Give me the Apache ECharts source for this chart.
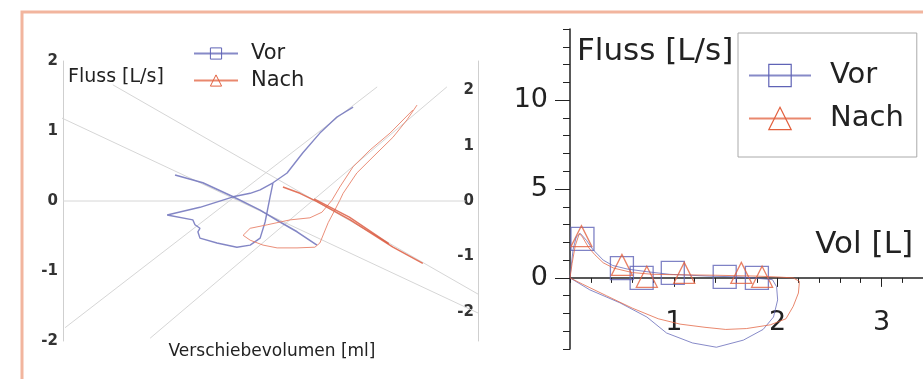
<!DOCTYPE html>
<html>
<head>
<meta charset="utf-8">
<script src="https://cdn.jsdelivr.net/npm/echarts@6/dist/echarts.min.js"></script>
<style>
  html, body { margin: 0; background: #fff; }
  #chart { width: 923px; height: 379px; }
</style>
</head>
<body>
<div id="chart"></div>
<script>
// linke Grafik: 3D-Projektion, x = Verschiebevolumen (relative Einheit 0..100), y = Fluss [L/s]
const vor3dLoop = [
  [69.9, 1.34], [66.0, 1.20], [61.9, 0.97], [57.8, 0.69], [54.0, 0.40], [50.6, 0.26],
  [47.5, 0.16], [45.1, 0.11], [41.0, 0.06], [33.0, -0.09], [25.1, -0.20], [31.3, -0.27],
  [31.8, -0.34], [33.0, -0.39], [32.5, -0.44], [33.0, -0.53], [37.1, -0.60], [41.9, -0.66],
  [45.1, -0.63], [47.5, -0.53], [48.7, -0.30], [49.9, 0.06], [50.6, 0.26]
];
const vor3dFloor = [[27.0, 0.37], [33.7, 0.26], [41.0, 0.06], [47.5, -0.13], [52.3, -0.30], [56.4, -0.44], [61.2, -0.63]];
const nach3dLoop = [
  [85.3, 1.37], [82.9, 1.16], [79.5, 0.91], [74.7, 0.63], [70.8, 0.40], [67.5, 0.11],
  [66.7, 0.01], [65.5, -0.13], [63.9, -0.31], [61.9, -0.60], [60.7, -0.66], [56.4, -0.67],
  [51.6, -0.67], [48.2, -0.63], [45.1, -0.56], [43.4, -0.49], [45.1, -0.39], [49.2, -0.34],
  [54.7, -0.27], [59.5, -0.24], [62.4, -0.16], [64.8, 0.01], [66.7, 0.20], [69.9, 0.49],
  [74.0, 0.73], [78.8, 0.97], [84.3, 1.30]
];
const nach3dFloor = [[53.0, 0.20], [57.1, 0.11], [61.2, -0.01], [69.2, -0.27], [79.5, -0.66], [86.7, -0.89]];
const nach3dFloor2 = [[60.5, 0.03], [69.0, -0.23], [78.5, -0.61]];
const skewLines = [
  [[-5.5, 1.33], [100, -1.6]],
  [[12.0, 1.66], [100, -1.33]],
  [[0.5, -1.81], [75.7, 1.63]],
  [[21.0, -1.96], [92.5, 1.63]],
  [[0, 0], [97, 0]]
];
const leftTicks = [-2, -1, 0, 1, 2];

// rechte Grafik: Fluss-Volumen-Kurve
const vorCurve = [
  [0, 0], [0.01, 0.6], [0.03, 1.6], [0.06, 2.3], [0.1, 2.5], [0.16, 2.1], [0.22, 1.6],
  [0.32, 1.0], [0.41, 0.7], [0.55, 0.5], [0.74, 0.35], [0.96, 0.2], [1.34, 0.1], [1.66, 0.05],
  [1.95, -0.1], [1.99, -0.5], [2.0, -1.24], [1.96, -2.2], [1.86, -2.9], [1.67, -3.5],
  [1.41, -3.9], [1.18, -3.66], [0.93, -3.1], [0.74, -2.2], [0.48, -1.4], [0.19, -0.67], [0, 0]
];
const nachCurve = [
  [0, 0], [0.02, 0.8], [0.05, 1.8], [0.09, 2.5], [0.12, 2.3], [0.18, 1.7], [0.24, 1.3],
  [0.32, 0.85], [0.42, 0.55], [0.6, 0.3], [0.8, 0.2], [1.0, 0.18], [1.4, 0.15], [1.8, 0.1],
  [2.0, 0.05], [2.15, 0.0], [2.21, -0.2], [2.2, -0.85], [2.15, -1.6], [2.08, -2.3],
  [1.93, -2.64], [1.7, -2.85], [1.5, -2.9], [1.3, -2.78], [1.06, -2.6], [0.85, -2.3],
  [0.6, -1.7], [0.35, -1.0], [0.12, -0.35], [0, 0]
];
const vorMarks = [[0.12, 2.2], [0.5, 0.55], [0.69, 0.0], [0.99, 0.28], [1.49, 0.06], [1.8, 0.0]];
const nachMarks = [[0.11, 2.35], [0.5, 0.73], [0.74, 0.06], [1.1, 0.28], [1.65, 0.28], [1.85, 0.06]];
const flowTicks = [0, 5, 10];
const volTicks = [1, 2, 3];

const BLUE = '#5f63b6';
const RED = '#e2603e';
const FONT = 'DejaVu Sans';

const chart = echarts.init(document.getElementById('chart'));

const leftLine = (data, color, width, opacity) => ({
  type: 'line',
  xAxisIndex: 0,
  yAxisIndex: 0,
  data: data,
  showSymbol: false,
  symbol: 'none',
  clip: false,
  silent: true,
  animation: false,
  lineStyle: { color: color, width: width, opacity: opacity }
});

const series = [];
skewLines.forEach(l => series.push(leftLine(l, '#d6d6d6', 1, 1)));
series.push(leftLine(vor3dLoop, '#7579bf', 1.4, 0.9));
series.push(leftLine(vor3dFloor, '#7579bf', 1.6, 0.9));
series.push(leftLine(nach3dLoop, '#e8826a', 1, 0.9));
series.push(leftLine(nach3dFloor, '#e0654a', 1.5, 0.9));
series.push(leftLine(nach3dFloor2, '#d9543a', 1.5, 0.8));

series.push({
  name: 'Vor', type: 'line', xAxisIndex: 1, yAxisIndex: 2, data: vorCurve,
  symbol: 'rect', showSymbol: false, silent: true, animation: false,
  itemStyle: { color: 'rgba(0,0,0,0)', borderColor: BLUE, borderWidth: 1.2 },
  lineStyle: { color: BLUE, width: 1, opacity: 0.75 }
});
series.push({
  name: 'Nach', type: 'line', xAxisIndex: 1, yAxisIndex: 2, data: nachCurve,
  symbol: 'triangle', showSymbol: false, silent: true, animation: false,
  itemStyle: { color: 'rgba(0,0,0,0)', borderColor: RED, borderWidth: 1.2 },
  lineStyle: { color: RED, width: 1, opacity: 0.75 }
});
series.push({
  type: 'scatter', xAxisIndex: 1, yAxisIndex: 2, data: vorMarks,
  symbol: 'rect', symbolSize: 23, silent: true, animation: false,
  itemStyle: { color: 'rgba(0,0,0,0)', borderColor: BLUE, borderWidth: 1.3 }
});
series.push({
  type: 'scatter', xAxisIndex: 1, yAxisIndex: 2, data: nachMarks,
  symbol: 'triangle', symbolSize: 21, silent: true, animation: false,
  itemStyle: { color: 'rgba(0,0,0,0)', borderColor: RED, borderWidth: 1.3 }
});

const option = {
  backgroundColor: '#fff',
  textStyle: { fontFamily: FONT },
  animation: false,
  grid: [
    { left: 63, top: 61, width: 415, height: 280, outerBoundsMode: 'none' },
    { left: 570, top: 29, width: 353, height: 320, outerBoundsMode: 'none' }
  ],
  xAxis: [
    { gridIndex: 0, type: 'value', min: 0, max: 100, show: false },
    {
      gridIndex: 1, type: 'value', position: 'bottom', min: 0, max: 3.4, interval: 0.2,
      axisLine: { onZero: true, lineStyle: { color: '#222', width: 1.5 } },
      axisTick: { length: 5, lineStyle: { color: '#222' } },
      axisLabel: { show: false }, splitLine: { show: false }
    },
    {
      gridIndex: 1, type: 'value', position: 'bottom', min: 0, max: 3.4,
      axisLine: { show: false, onZero: true },
      axisTick: { customValues: volTicks, length: 9, lineStyle: { color: '#222' } },
      axisLabel: { show: false },
      splitLine: { show: false }
    },
    {
      gridIndex: 1, type: 'value', position: 'bottom', min: 0, max: 3.4,
      axisLine: { show: false, onZero: false },
      axisTick: { show: false },
      axisLabel: { customValues: volTicks, inside: true, margin: 13, fontSize: 27, color: '#222' },
      splitLine: { show: false }
    }
  ],
  yAxis: [
    {
      gridIndex: 0, type: 'value', min: -2, max: 2, interval: 1,
      axisLine: { show: true, onZero: false, lineStyle: { color: '#cfcfcf' } },
      axisTick: { show: false }, splitLine: { show: false },
      axisLabel: { margin: 5, fontSize: 15, fontWeight: 'bold', color: '#333' }
    },
    {
      gridIndex: 0, type: 'value', position: 'right', min: -2.53, max: 2.53,
      axisLine: { show: true, onZero: false, lineStyle: { color: '#cfcfcf' } },
      axisTick: { show: false }, splitLine: { show: false },
      axisLabel: { customValues: leftTicks, inside: true, margin: 4, fontSize: 15, fontWeight: 'bold', color: '#333' }
    },
    {
      gridIndex: 1, type: 'value', position: 'left', min: -4, max: 14, interval: 1,
      axisLine: { show: true, onZero: false, lineStyle: { color: '#222', width: 1.5 } },
      axisTick: { length: 7, lineStyle: { color: '#222' } },
      axisLabel: { show: false }, splitLine: { show: false }
    },
    {
      gridIndex: 1, type: 'value', position: 'left', min: -4, max: 14,
      axisLine: { show: false, onZero: false },
      axisTick: { customValues: flowTicks, length: 15, lineStyle: { color: '#222' } },
      axisLabel: { customValues: flowTicks, margin: 22, fontSize: 27, color: '#222' },
      splitLine: { show: false }
    }
  ],
  legend: [
    {
      data: ['Vor', 'Nach'], orient: 'vertical', left: 193, top: 43,
      itemWidth: 44, itemHeight: 14, itemGap: 6, padding: 0, selectedMode: false,
      itemStyle: { color: 'rgba(0,0,0,0)', borderWidth: 1 },
      textStyle: { fontSize: 21, color: '#222', padding: [0, 0, 0, 8] }
    },
    {
      data: ['Vor', 'Nach'], orient: 'vertical', left: 738, top: 33,
      itemWidth: 62, itemHeight: 28, itemGap: 14, padding: [28, 13, 24, 10], selectedMode: false,
      borderColor: '#aaa', borderWidth: 1, backgroundColor: '#fff',
      itemStyle: { color: 'rgba(0,0,0,0)', borderWidth: 1.2 },
      textStyle: { fontSize: 29, color: '#222', padding: [0, 0, 0, 14] }
    }
  ],
  graphic: [
    {
      type: 'rect', silent: true, z: 100,
      shape: { x: 22, y: 12, width: 960, height: 420 },
      style: { fill: 'none', stroke: '#f2b59e', lineWidth: 3 }
    },
    {
      type: 'text', x: 68, y: 77, silent: true,
      style: { text: 'Fluss [L/s]', fontSize: 19, fontFamily: FONT, fill: '#222', verticalAlign: 'middle' }
    },
    {
      type: 'text', x: 272, y: 352, silent: true,
      style: { text: 'Verschiebevolumen [ml]', fontSize: 17, fontFamily: FONT, fill: '#222', align: 'center', verticalAlign: 'middle' }
    },
    {
      type: 'text', x: 577, y: 52, silent: true,
      style: { text: 'Fluss [L/s]', fontSize: 31, fontFamily: FONT, fill: '#222', verticalAlign: 'middle' }
    },
    {
      type: 'text', x: 913, y: 245, silent: true,
      style: { text: 'Vol [L]', fontSize: 31, fontFamily: FONT, fill: '#222', align: 'right', verticalAlign: 'middle' }
    }
  ],
  series: series
};

chart.setOption(option);
window.addEventListener('resize', function () {
  chart.resize();
});
</script>
</body>
</html>
